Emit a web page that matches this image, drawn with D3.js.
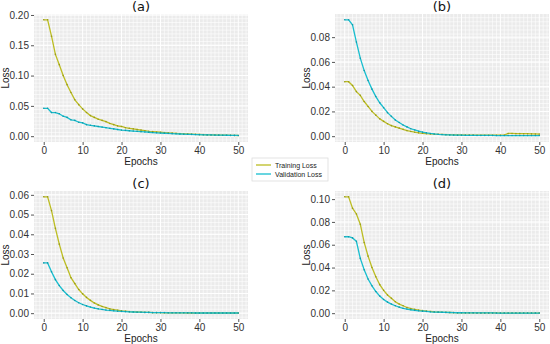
<!DOCTYPE html>
<html>
<head>
<meta charset="utf-8">
<script src="https://cdn.jsdelivr.net/npm/d3@7"></script>
<style>
  body { margin: 0; background: #fff; }
  svg { display: block; }
  .tick text { font-family: "Liberation Sans", Arial, sans-serif; font-size: 10px; fill: #333; }
  .tick line { stroke: #555; }
  .lbl { font-family: "Liberation Sans", Arial, sans-serif; font-size: 10px; fill: #222; }
  .ttl { font-family: "DejaVu Sans", sans-serif; font-size: 13px; fill: #111; }
</style>
</head>
<body>
<svg id="chart" width="550" height="344"></svg>
<script>
// epochs 0..50
var epochs = d3.range(0, 51);

// panel (a)
var trainA = [0.192,0.192,0.165,0.135,0.118,0.100,0.085,0.072,0.060,0.052,
  0.045,0.039,0.034,0.031,0.028,0.026,0.024,0.021,0.019,0.017,
  0.016,0.014,0.013,0.012,0.011,0.010,0.009,0.008,0.0075,0.007,
  0.0065,0.006,0.0055,0.005,0.0046,0.0042,0.0039,0.0036,0.0033,0.003,
  0.0028,0.0026,0.0024,0.0022,0.002,0.0018,0.0016,0.0015,0.0014,0.0012,0.0011];
var valA = [0.046,0.046,0.039,0.039,0.037,0.033,0.031,0.027,0.026,0.023,
  0.022,0.019,0.018,0.017,0.016,0.015,0.014,0.013,0.012,0.011,
  0.010,0.0095,0.009,0.0085,0.008,0.0075,0.007,0.0065,0.006,0.0056,
  0.0052,0.0048,0.0045,0.0042,0.0039,0.0036,0.0033,0.0031,0.0029,0.0027,
  0.0025,0.0023,0.0021,0.002,0.0018,0.0017,0.0016,0.0015,0.0014,0.0013,0.0012];

// panel (b)
var trainB = [0.044,0.044,0.041,0.036,0.033,0.028,0.024,0.020,0.017,0.014,
  0.012,0.010,0.0085,0.0075,0.0065,0.0055,0.0045,0.0038,0.0032,0.0027,
  0.0023,0.002,0.0018,0.0016,0.0015,0.0014,0.0013,0.0012,0.0011,0.001,
  0.001,0.0009,0.0009,0.0009,0.0008,0.0008,0.0008,0.0008,0.0008,0.0008,
  0.0008,0.0008,0.0022,0.0022,0.0021,0.0021,0.002,0.002,0.0019,0.0018,0.0017];
var valB = [0.094,0.094,0.090,0.076,0.063,0.053,0.045,0.038,0.032,0.027,
  0.023,0.019,0.016,0.013,0.011,0.009,0.0075,0.006,0.005,0.004,
  0.0033,0.0027,0.0022,0.0018,0.0015,0.0013,0.0011,0.001,0.0009,0.0008,
  0.0008,0.0007,0.0007,0.0007,0.0006,0.0006,0.0006,0.0006,0.0006,0.0005,
  0.0005,0.0005,0.0005,0.0005,0.0005,0.0005,0.0005,0.0005,0.0005,0.0005,0.0005];

// panel (c)
var trainC = [0.059,0.059,0.052,0.043,0.035,0.028,0.023,0.018,0.015,0.012,
  0.0098,0.008,0.0065,0.0052,0.0042,0.0034,0.0028,0.0022,0.0018,0.0015,
  0.0012,0.001,0.0008,0.0007,0.0006,0.0005,0.0004,0.0004,0.0003,0.0003,
  0.0003,0.0002,0.0002,0.0002,0.0002,0.0002,0.0002,0.0001,0.0001,0.0001,
  0.0001,0.0001,0.0001,0.0001,0.0001,0.0001,0.0001,0.0001,0.0001,0.0001,0.0001];
var valC = [0.0255,0.0255,0.021,0.017,0.014,0.0115,0.0095,0.0078,0.0064,0.0053,
  0.0044,0.0037,0.0031,0.0026,0.0022,0.0019,0.0016,0.0014,0.0012,0.001,
  0.0009,0.0008,0.0007,0.0006,0.0005,0.0005,0.0004,0.0004,0.0003,0.0003,
  0.0003,0.0003,0.0002,0.0002,0.0002,0.0002,0.0002,0.0002,0.0002,0.0001,
  0.0001,0.0001,0.0001,0.0001,0.0001,0.0001,0.0001,0.0001,0.0001,0.0001,0.0001];

// panel (d)
var trainD = [0.102,0.102,0.092,0.087,0.078,0.062,0.050,0.040,0.032,0.025,
  0.020,0.016,0.013,0.010,0.008,0.0065,0.005,0.004,0.0033,0.0027,
  0.0022,0.0018,0.0015,0.0012,0.001,0.0008,0.0007,0.0006,0.0005,0.0004,
  0.0004,0.0003,0.0003,0.0003,0.0002,0.0002,0.0002,0.0002,0.0002,0.0002,
  0.0001,0.0001,0.0001,0.0001,0.0001,0.0001,0.0001,0.0001,0.0001,0.0001,0.0001];
var valD = [0.067,0.067,0.066,0.063,0.048,0.038,0.030,0.024,0.019,0.015,
  0.012,0.0097,0.008,0.0065,0.0053,0.0043,0.0036,0.003,0.0025,0.0021,
  0.0018,0.0015,0.0012,0.001,0.0009,0.0008,0.0007,0.0006,0.0005,0.0004,
  0.0004,0.0003,0.0003,0.0003,0.0002,0.0002,0.0002,0.0002,0.0002,0.0001,
  0.0001,0.0001,0.0001,0.0001,0.0001,0.0001,0.0001,0.0001,0.0001,0.0001,0.0001];

var xTicks = [0, 10, 20, 30, 40, 50];
var yTicksA = [0, 0.05, 0.10, 0.15, 0.20];
var yTicksB = [0, 0.02, 0.04, 0.06, 0.08];
var yTicksC = [0, 0.01, 0.02, 0.03, 0.04, 0.05, 0.06];
var yTicksD = [0, 0.02, 0.04, 0.06, 0.08, 0.10];

var legendNames = ["Training Loss", "Validation Loss"];
var trainColor = "#bcbd22", valColor = "#17becf";

var panels = [
  {title: "(a)", train: trainA, val: valA, ticks: yTicksA, minor: 0.00625, left: 34, top: 14},
  {title: "(b)", train: trainB, val: valB, ticks: yTicksB, minor: 0.0033, left: 335, top: 14},
  {title: "(c)", train: trainC, val: valC, ticks: yTicksC, minor: 0.002, left: 34, top: 191},
  {title: "(d)", train: trainD, val: valD, ticks: yTicksD, minor: 0.0033, left: 335, top: 191}
];

var pw = 214, ph = 128;
var svg = d3.select("#chart");

panels.forEach(function(p) {
  var g = svg.append("g").attr("transform", "translate(" + p.left + "," + p.top + ")");

  var ymax = d3.max(p.train.concat(p.val));
  var pad = ymax * 0.05;

  var x = d3.scaleLinear().domain([-2.5, 52.5]).range([0, pw]);
  var y = d3.scaleLinear().domain([-pad, ymax + pad]).range([ph, 0]);

  g.append("rect").attr("width", pw).attr("height", ph).attr("fill", "#ebebeb");

  // dense white grid
  var xg = d3.range(-2, 53, 1);
  g.selectAll(".vg").data(xg).enter().append("line")
    .attr("x1", function(d) { return x(d); }).attr("x2", function(d) { return x(d); })
    .attr("y1", 0).attr("y2", ph)
    .attr("stroke", "#fff").attr("stroke-width", function(d) { return d % 10 == 0 ? 1 : 0.6; });
  var yg = d3.range(0, ymax + pad, p.minor).concat(d3.range(-p.minor, -pad, -p.minor));
  g.selectAll(".hg").data(yg).enter().append("line")
    .attr("y1", function(d) { return y(d); }).attr("y2", function(d) { return y(d); })
    .attr("x1", 0).attr("x2", pw)
    .attr("stroke", "#fff").attr("stroke-width", 0.6);
  g.selectAll(".hgm").data(p.ticks).enter().append("line")
    .attr("y1", function(d) { return y(d); }).attr("y2", function(d) { return y(d); })
    .attr("x1", 0).attr("x2", pw)
    .attr("stroke", "#fff").attr("stroke-width", 1);

  // axes
  var xAxis = d3.axisBottom(x).tickValues(xTicks).tickSize(3).tickPadding(2).tickFormat(d3.format("d"));
  g.append("g").attr("transform", "translate(0," + ph + ")").call(xAxis)
    .call(function(s) { s.select(".domain").remove(); });

  var fmt = d3.format(".2f");
  var yAxis = d3.axisLeft(y).tickValues(p.ticks).tickSize(3).tickPadding(2).tickFormat(fmt);
  g.append("g").call(yAxis).call(function(s) { s.select(".domain").remove(); });

  g.append("text").attr("class", "lbl").attr("x", pw / 2).attr("y", ph + 23)
    .attr("text-anchor", "middle").text("Epochs");
  g.append("text").attr("class", "lbl")
    .attr("transform", "translate(-25," + (ph / 2) + ") rotate(-90)")
    .attr("text-anchor", "middle").text("Loss");
  g.append("text").attr("class", "ttl").attr("x", pw / 2).attr("y", -3)
    .attr("text-anchor", "middle").text(p.title);

  // series
  var line = d3.line().x(function(d, i) { return x(epochs[i]); }).y(function(d) { return y(d); });
  [[p.train, trainColor], [p.val, valColor]].forEach(function(s) {
    g.append("path").datum(s[0]).attr("d", line)
      .attr("fill", "none").attr("stroke", s[1]).attr("stroke-width", 1.3);
    g.selectAll(null).data(s[0]).enter().append("circle")
      .attr("cx", function(d, i) { return x(epochs[i]); })
      .attr("cy", function(d) { return y(d); })
      .attr("r", 0.8).attr("fill", d3.color(s[1]).darker(0.6));
  });
});

// legend
var lg = svg.append("g").attr("transform", "translate(252,158)");
lg.append("rect").attr("width", 76).attr("height", 23).attr("fill", "#fff")
  .attr("stroke", "#ddd").attr("stroke-width", 0.8);
[trainColor, valColor].forEach(function(c, i) {
  lg.append("line").attr("x1", 4).attr("x2", 19).attr("y1", 7 + i * 9).attr("y2", 7 + i * 9)
    .attr("stroke", c).attr("stroke-width", 1.3);
  lg.append("text").attr("x", 23).attr("y", 9.5 + i * 9)
    .style("font-family", "Liberation Sans, Arial, sans-serif").style("font-size", "7px")
    .attr("fill", "#222").text(legendNames[i]);
});
</script>
</body>
</html>
